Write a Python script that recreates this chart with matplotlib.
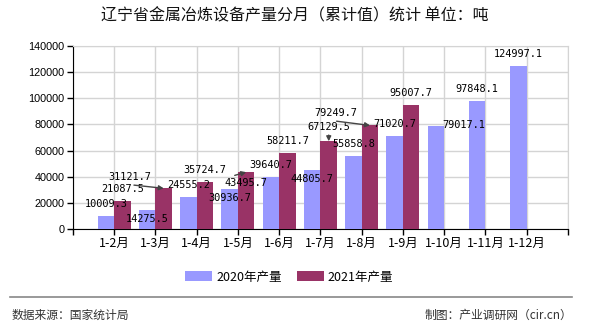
import matplotlib.pyplot as plt
import numpy as np

plt.rcParams['font.family'] = ['Noto Sans CJK SC', 'DejaVu Sans']

# 数据
months = ['1-2月', '1-3月', '1-4月', '1-5月', '1-6月', '1-7月', '1-8月',
          '1-9月', '1-10月', '1-11月', '1-12月']
y2020 = [10009.3, 14275.5, 24555.2, 30936.7, 39640.7, 44805.7, 55858.8,
         71020.7, 79017.1, 97848.1, 124997.1]
y2021 = [21087.5, 31121.7, 35724.7, 43495.7, 58211.7, 67129.5, 79249.7,
         95007.7]
yticks = [0, 20000, 40000, 60000, 80000, 100000, 120000, 140000]

c2020 = '#9999FF'
c2021 = '#993366'

fig = plt.figure(figsize=(5.9, 3.3), dpi=100)
ax = fig.add_axes([0.1237, 0.306, 0.839, 0.5546])

x = np.arange(1, len(months) + 1)
w = 0.4
ax.bar(x[:len(y2020)] - w / 2, y2020, w, color=c2020, label='2020年产量', zorder=3)
ax.bar(x[:len(y2021)] + w / 2, y2021, w, color=c2021, label='2021年产量', zorder=3)

ax.set_xlim(0, 12)
ax.set_ylim(0, 140000)
ax.set_xticks(np.arange(0, 13))
ax.set_xticklabels([''] + months + [''], fontsize=9)
ax.set_yticks(yticks)
ax.set_yticklabels([str(v) for v in yticks], fontsize=7.8, family='Liberation Sans')
ax.tick_params(axis='both', length=4, width=1, color='black', pad=2)
ax.grid(True, color='#d4d4d4', lw=1, zorder=0)
ax.spines['top'].set_color('#d4d4d4')
ax.spines['right'].set_color('#d4d4d4')

# 数据标签（偏移，单位像素）
off2020 = {1: (0, -9), 3: (0, -9), 5: (0, -9), 8: (28, 1)}
off2021 = {1: (-34, 11), 3: (0, -11), 5: (0, 14), 6: (-34, 12)}
arrow2021 = {1: (0, 0), 3: (0, 1), 5: (0.5, 0), 6: (0, 0)}

lab_font = dict(fontsize=7.4, family='DejaVu Sans Mono', ha='center', va='center',
                zorder=5)
for i, v in enumerate(y2020):
    dx, dy = off2020.get(i, (0, 12))
    ax.annotate(f'{v:.1f}', (x[i] - w / 2, v), xytext=(dx, dy),
                textcoords='offset pixels', **lab_font)
for i, v in enumerate(y2021):
    dx, dy = off2021.get(i, (0, 12))
    ap = None
    if i in arrow2021:
        ap = dict(arrowstyle='-|>', color='#444444', lw=1, shrinkA=0, shrinkB=0,
                  relpos=arrow2021[i], mutation_scale=7)
    ax.annotate(f'{v:.1f}', (x[i] + w / 2, v), xytext=(dx, dy),
                textcoords='offset pixels', arrowprops=ap, **lab_font)

fig.text(0.5, 1 - 16 / 330, '辽宁省金属冶炼设备产量分月（累计值）统计 单位：吨',
         ha='center', va='center', fontsize=11.5, color='#111111')

fig.legend(loc='center', bbox_to_anchor=(0.49, 1 - 277 / 330), ncol=2,
           frameon=False, fontsize=9, handlelength=2.2, handleheight=0.8,
           columnspacing=1.2, handletextpad=0.3)

fig.add_artist(plt.Line2D([10 / 590, 572 / 590], [1 - 297 / 330, 1 - 297 / 330],
                          color='#888888', lw=1.2))
fig.text(12 / 590, 1 - 315 / 330, '数据来源：国家统计局', ha='left', va='center',
         fontsize=8.5, color='#333333')
fig.text(572 / 590, 1 - 315 / 330, '制图：产业调研网（cir.cn）', ha='right', va='center',
         fontsize=8.5, color='#333333')

fig.savefig('out.png', dpi=100)
